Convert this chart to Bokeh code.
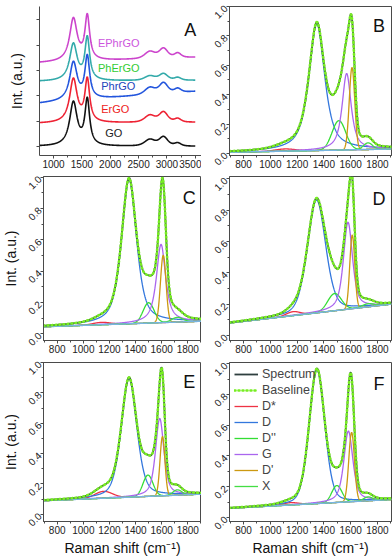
import math
import numpy as np
from bokeh.plotting import figure
from bokeh.layouts import column, row
from bokeh.models import (SingleIntervalTicker, FixedTicker, Label, Legend, LegendItem,
                          Range1d, NumeralTickFormatter)
from bokeh.embed import file_html
from bokeh.resources import INLINE

# ---------------- Panel A: stacked Raman spectra (peak parameters)
a_names = ["GO", "ErGO", "PhrGO", "PhErGO", "EPhrGO"]
a_centers = [1350, 1595, 2700, 2940, 3190]          # cm-1
a_hwhm = [80, 50, 110, 90, 70]
go_heights = [1.72, 1.78, 0.26, 0.36, 0.12]
ergo_heights = [1.72, 1.66, 0.28, 0.40, 0.14]
phrgo_heights = [1.50, 1.65, 0.28, 0.42, 0.16]
pherg_heights = [1.45, 1.66, 0.18, 0.26, 0.11]
ephrgo_heights = [1.68, 1.72, 0.28, 0.38, 0.18]
a_base_1000 = [0.00, 0.91, 1.74, 2.57, 3.32]        # offset at 1000 cm-1
a_base_3500 = [0.00, 0.95, 2.17, 2.61, 3.52]        # offset at 3500 cm-1

# ---------------- Panels B-F: fitted components  D*, D, D'', G, D', X
comp_names = ["D*", "D", "D''", "G", "D'", "X"]
b_center = [1110, 1347, 1512, 1570, 1610, 1730]
b_amp = [0.015, 0.86, 0.20, 0.52, 0.56, 0.045]
b_hwhm = [90, 70, 60, 40, 24, 40]
b_eta = [0.0, 0.7, 0.0, 0.8, 0.0, 0.0]
b_base = [0.008, 0.030]

c_center = [1140, 1350, 1500, 1595, 1612, 1720]
c_amp = [0.015, 0.92, 0.13, 0.50, 0.43, 0.03]
c_hwhm = [80, 68, 50, 42, 25, 50]
c_eta = [0.0, 0.6, 0.0, 0.8, 0.0, 0.0]
c_base = [0.045, 0.080]

d_center = [1170, 1345, 1480, 1580, 1612, 1730]
d_amp = [0.025, 0.72, 0.11, 0.555, 0.47, 0.02]
d_hwhm = [60, 80, 60, 40, 22, 50]
d_eta = [0.0, 0.3, 0.0, 0.6, 0.0, 0.0]
d_base = [0.080, 0.200]

e_center = [1155, 1350, 1495, 1585, 1606, 1720]
e_amp = [0.045, 0.78, 0.14, 0.51, 0.39, 0.035]
e_hwhm = [80, 70, 45, 38, 22, 40]
e_eta = [0.0, 0.4, 0.0, 0.6, 0.0, 0.0]
e_base = [0.090, 0.133]

f_center = [1150, 1348, 1497, 1583, 1607, 1730]
f_amp = [0.015, 0.87, 0.11, 0.46, 0.45, 0.025]
f_hwhm = [70, 68, 45, 40, 25, 40]
f_eta = [0.0, 0.25, 0.0, 0.6, 0.0, 0.0]
f_base = [0.060, 0.117]

# ---------------- styling
FONT = "Liberation Sans"
AXC = "#4a4a4a"
a_colors = ["#111111", "#ee2233", "#2255dd", "#33aaaa", "#cc44cc"]
a_label_colors = ["#222222", "#ee2222", "#2244bb", "#33cc33", "#cc55dd"]
a_label_pos = [(1910, 0.51), (1840, 1.46), (1840, 2.37), (1783, 3.08), (1783, 4.07)]
comp_colors = ["#ee3344", "#3377dd", "#33dd33", "#aa66ee", "#cc9911", "#44dd44"]
SPEC_C = "#2f3f3f"
ENV_C = "#77ee22"
BASE_C = "#77b5e0"

LW, RW = 201, 191
H1, H2, H3 = 172, 186, 200


def pv(x, c, a, w, eta):
    u = ((x - c) / w) ** 2
    return a * (eta / (1.0 + u) + (1.0 - eta) * np.exp(-math.log(2) * u))


def style(p, xint, yint=None):
    p.xgrid.visible = False
    p.ygrid.visible = False
    p.outline_line_color = AXC
    p.xaxis.ticker = SingleIntervalTicker(interval=xint, num_minor_ticks=2)
    if yint is not None:
        p.yaxis.ticker = SingleIntervalTicker(interval=yint, num_minor_ticks=2)
        p.yaxis.formatter = NumeralTickFormatter(format="0.0")
    for ax in p.axis:
        ax.axis_line_color = AXC
        ax.major_tick_line_color = AXC
        ax.minor_tick_line_color = AXC
        ax.major_tick_in = 0
        ax.major_tick_out = 3
        ax.minor_tick_in = 0
        ax.minor_tick_out = 2
        ax.major_label_text_font = FONT
        ax.major_label_text_font_size = "10px"
        ax.major_label_text_color = "#222222"
        ax.major_label_standoff = 1
        ax.axis_label_text_font = FONT
        ax.axis_label_text_font_style = "normal"
        ax.axis_label_text_color = "#111111"
    p.yaxis.major_label_orientation = math.pi / 4


def letter(p, x, y, t):
    p.add_layout(Label(x=x, y=y, text=t, text_font=FONT, text_font_size="18px",
                       text_align="center", text_baseline="middle", text_color="#111111"))


# ---------------- Panel A
pA = figure(width=LW, height=H1, output_backend="svg", toolbar_location=None,
            x_range=Range1d(752, 3610), y_range=Range1d(-0.36, 5.53),
            min_border_left=39, min_border_right=0, min_border_top=6, min_border_bottom=17)
style(pA, 500)
pA.outline_line_color = None
pA.yaxis.ticker = FixedTicker(ticks=[], minor_ticks=[0, 1, 2, 3, 4, 5])
pA.yaxis.minor_tick_out = 3
pA.yaxis.axis_label = "Int. (a.u.)"
pA.yaxis.axis_label_text_font_size = "14px"
pA.yaxis.axis_label_standoff = 12
xa = np.linspace(755, 3500, 900)
a_heights = [go_heights, ergo_heights, phrgo_heights, pherg_heights, ephrgo_heights]
a_eta = [1.0, 1.0, 0.5, 0.5, 0.5]
for i, name in enumerate(a_names):
    base = a_base_1000[i] + (a_base_3500[i] - a_base_1000[i]) * (xa - 1000) / 2500.0
    y = base.copy()
    for c, h, w, et in zip(a_centers, a_heights[i], a_hwhm, a_eta):
        y += pv(xa, c, h, w, et)
    pA.line(xa, y, line_color=a_colors[i], line_width=1.6)
for i, name in enumerate(a_names):
    lx, ly = a_label_pos[i]
    pA.add_layout(Label(x=lx, y=ly, text=name, text_font=FONT, text_font_size="11px",
                        text_baseline="middle", text_color=a_label_colors[i]))
letter(pA, 3410, 4.62, "A")


# ---------------- Panels B-F
def fit_panel(width, height, borders, params, tag, yr, ylabel=False, xlabel=False,
              legend=False):
    center, amp, hwhm, eta, bl = params
    bl_, br_, bt_, bb_ = borders
    p = figure(width=width, height=height, output_backend="svg", toolbar_location=None,
               x_range=Range1d(695, 1905), y_range=Range1d(*yr),
               min_border_left=bl_, min_border_right=br_, min_border_top=bt_,
               min_border_bottom=bb_)
    style(p, 200, 0.2)
    if ylabel:
        p.yaxis.axis_label = "Int. (a.u.)"
        p.yaxis.axis_label_text_font_size = "14px"
        p.yaxis.axis_label_standoff = 2
    if xlabel:
        p.xaxis.axis_label = "Raman shift (cm\u207b\u00b9)"
        p.xaxis.axis_label_text_font_size = "14px"
        p.xaxis.axis_label_standoff = 3
    x = np.linspace(695, 1905, 700)
    base = bl[0] + (bl[1] - bl[0]) * (x - 700) / 1200.0
    total = base.copy()
    comp_r = []
    for k in range(len(center)):
        comp = pv(x, center[k], amp[k], hwhm[k], eta[k])
        total += comp
        r = p.line(x, base + comp, line_color=comp_colors[k], line_width=1.3)
        comp_r.append(r)
    p.line(x, base, line_color=BASE_C, line_width=1.5)
    rs = p.line(x, total, line_color=SPEC_C, line_width=1.8)
    re = p.line(x, total, line_color=ENV_C, line_width=2.6, line_dash="1 3", line_cap="round")
    letter(p, 1812, 0.87, tag)
    if legend:
        items = [LegendItem(label="Spectrum", renderers=[rs]),
                 LegendItem(label="Baseline", renderers=[re])]
        for k, nm in enumerate(comp_names):
            items.append(LegendItem(label=nm, renderers=[comp_r[k]]))
        lg = Legend(items=items, location="top_left", background_fill_alpha=0,
                    border_line_alpha=0, label_text_font=FONT, label_text_font_size="12.5px",
                    glyph_width=24, glyph_height=12, label_height=12, spacing=2,
                    padding=2, margin=3, label_standoff=4)
        p.add_layout(lg)
    return p


pB = fit_panel(RW, H1, (28, 1, 6, 17), (b_center, b_amp, b_hwhm, b_eta, b_base), "B",
               (-0.014, 1.0))
pC = fit_panel(LW, H2, (39, 0, 4, 18), (c_center, c_amp, c_hwhm, c_eta, c_base), "C",
               (-0.043, 1.005), ylabel=True)
pD = fit_panel(RW, H2, (28, 1, 4, 18), (d_center, d_amp, d_hwhm, d_eta, d_base), "D",
               (-0.032, 1.015))
pE = fit_panel(LW, H3, (39, 0, 4, 34), (e_center, e_amp, e_hwhm, e_eta, e_base), "E",
               (-0.047, 1.0), ylabel=True, xlabel=True)
pF = fit_panel(RW, H3, (28, 1, 4, 34), (f_center, f_amp, f_hwhm, f_eta, f_base), "F",
               (-0.026, 1.008), xlabel=True, legend=True)

layout = column(row(pA, pB, spacing=0), row(pC, pD, spacing=0), row(pE, pF, spacing=0),
                spacing=0)
open("out.html", "w").write(file_html(layout, INLINE))
